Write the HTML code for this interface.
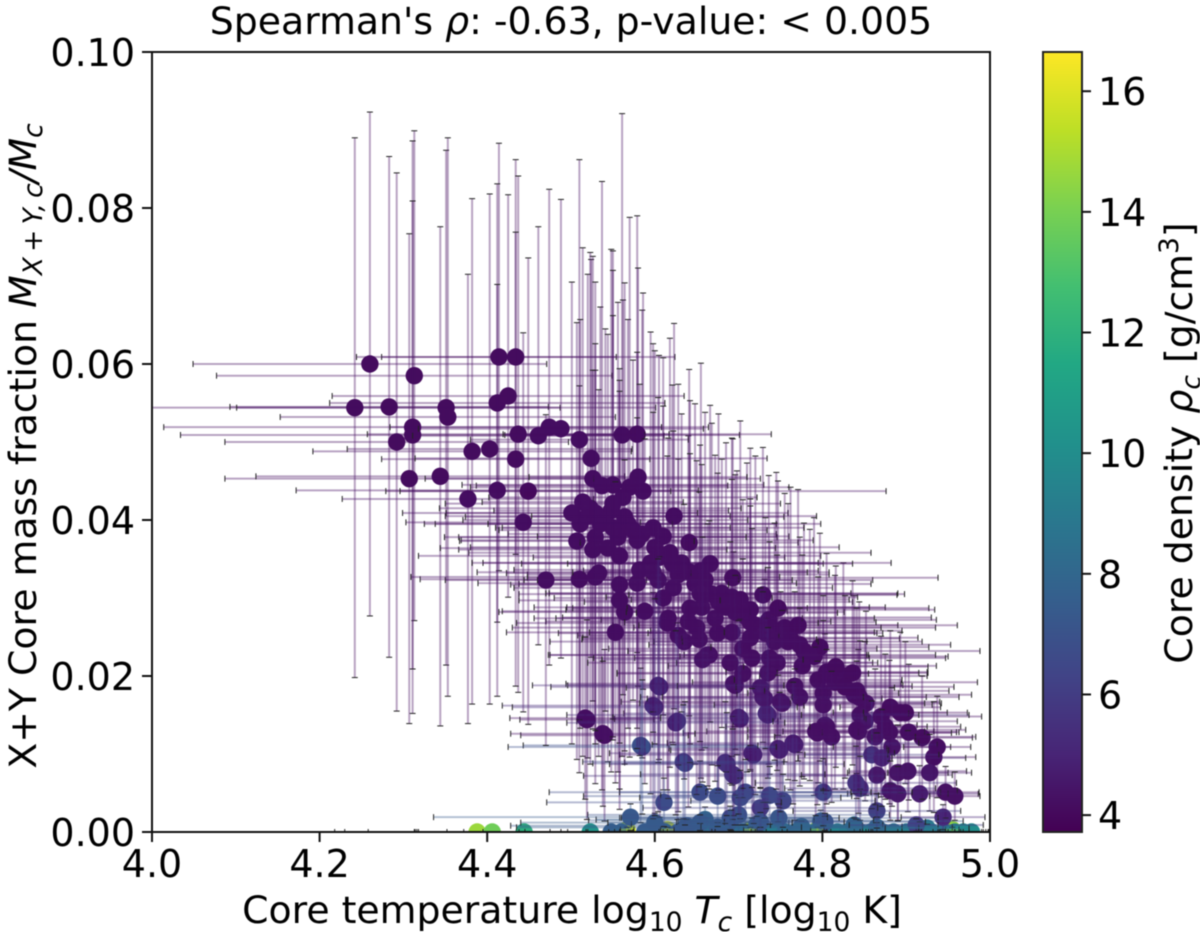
<!DOCTYPE html>
<html lang="en">
<head>
<meta charset="utf-8">
<title>Core mass fraction vs core temperature</title>
<style>
html,body{margin:0;padding:0;background:#fff;width:1200px;height:932px;overflow:hidden}
svg{display:block;filter:blur(0.4px)}
text{font-family:"DejaVu Sans",sans-serif;fill:#000}
</style>
</head>
<body>
<svg id="chart" xmlns="http://www.w3.org/2000/svg" width="1200" height="932" viewBox="0 0 1200 932">
  <defs>
    <clipPath id="plot-clip"><rect x="152" y="52" width="838" height="780"/></clipPath>
    <linearGradient id="viridis-gradient" x1="0" y1="1" x2="0" y2="0">
      <stop offset="0" stop-color="#440154"/><stop offset="0.1" stop-color="#482576"/>
      <stop offset="0.2" stop-color="#414487"/><stop offset="0.3" stop-color="#355f8d"/>
      <stop offset="0.4" stop-color="#2a788e"/><stop offset="0.5" stop-color="#21918c"/>
      <stop offset="0.6" stop-color="#22a884"/><stop offset="0.7" stop-color="#43bf71"/>
      <stop offset="0.8" stop-color="#7ad151"/><stop offset="0.9" stop-color="#bddf26"/>
      <stop offset="1" stop-color="#fde725"/>
    </linearGradient>
  </defs>
  <text x="571" y="34" text-anchor="middle" font-size="37.8">Spearman's <tspan font-style="italic">ρ</tspan>: -0.63, p-value: &lt; 0.005</text>
  <g id="marks" clip-path="url(#plot-clip)"></g>
  <rect x="152" y="52" width="838" height="780" fill="none" stroke="#111" stroke-width="2"/>
  <g id="x-axis"></g>
  <g id="y-axis"></g>
  <text x="572" y="923" text-anchor="middle" font-size="37.8">Core temperature log<tspan font-size="26.5" dy="8">10</tspan><tspan dy="-8" font-style="italic"> T</tspan><tspan font-size="26.5" dy="8" font-style="italic">c</tspan><tspan dy="-8"> [log</tspan><tspan font-size="26.5" dy="8">10</tspan><tspan dy="-8">  K]</tspan></text>
  <text transform="translate(36 446) rotate(-90)" text-anchor="middle" font-size="37.8">X+Y Core mass fraction <tspan font-style="italic">M</tspan><tspan font-size="26.5" dy="6" font-style="italic">X&#8201;+&#8201;Y,&#8201;c</tspan><tspan dy="-6" font-style="italic">/M</tspan><tspan font-size="26.5" dy="6" font-style="italic">c</tspan></text>
  <rect x="1043" y="52" width="39" height="780" fill="url(#viridis-gradient)" stroke="#222" stroke-width="2"/>
  <g id="colorbar-axis"></g>
  <text transform="translate(1192 443) rotate(-90)" text-anchor="middle" font-size="37.8">Core density <tspan font-style="italic">ρ</tspan><tspan font-size="26.5" dy="8" font-style="italic">c</tspan><tspan dy="-8"> [g/cm</tspan><tspan font-size="26.5" dy="-14">3</tspan><tspan dy="14">]</tspan></text>
</svg>
<script>
// Main series
const temps = [
4.242,4.260,4.313,4.283,4.351,4.353,4.311,4.311,4.292,4.307,
4.344,4.377,4.382,4.403,4.414,4.434,4.412,4.425,4.437,4.434,
4.412,4.449,4.443,4.461,4.474,4.488,4.510,4.470,4.510,4.529,
4.533,4.524,4.561,4.579,4.526,4.537,4.550,4.580,4.570,4.586,
4.562,4.550,4.514,4.501,4.523,4.511,4.529,4.541,4.550,4.564,
4.574,4.579,4.598,4.610,4.600,4.623,4.641,4.507,4.529,4.526,
4.544,4.558,4.558,4.579,4.582,4.598,4.621,4.632,4.642,4.666,
4.660,4.693,4.604,4.622,4.610,4.654,4.680,4.692,4.558,4.564,
4.588,4.642,4.656,4.616,4.672,4.696,4.729,4.747,4.714,4.698,
4.714,4.771,4.692,4.732,4.714,4.743,4.759,4.773,4.797,4.785,
4.665,4.690,4.716,4.737,4.746,4.776,4.816,4.836,4.705,4.735,
4.696,4.767,4.795,4.827,4.841,4.844,4.726,4.729,4.773,4.801,
4.801,4.752,4.881,4.893,4.899,4.735,4.700,4.845,4.851,4.875,
4.841,4.805,4.794,4.811,4.919,4.863,4.883,4.937,4.933,4.716,
4.749,4.765,4.859,4.871,4.686,4.693,4.865,4.890,4.902,4.928,
4.840,4.845,4.801,4.881,4.890,4.916,4.947,4.958,4.675,4.737,
4.753,4.708,4.702,4.654,4.865,4.944,4.726,4.691,4.912,4.803,
4.726,4.553,4.615,4.635,4.653,4.663,4.657,4.604,4.600,4.517,
4.625,4.538,4.585,4.634,4.611,4.571,4.654,4.690
];
const fractions = [
.0544,.0600,.0585,.0545,.0544,.0532,.0519,.0509,.0500,.0453,
.0456,.0427,.0488,.0491,.0609,.0609,.0550,.0559,.0510,.0478,
.0438,.0437,.0397,.0508,.0519,.0517,.0503,.0323,.0324,.0327,
.0332,.0479,.0509,.0510,.0453,.0444,.0445,.0455,.0442,.0437,
.0429,.0421,.0423,.0409,.0415,.0395,.0409,.0400,.0390,.0404,
.0387,.0374,.0390,.0379,.0365,.0405,.0371,.0373,.0378,.0362,
.0364,.0354,.0317,.0319,.0336,.0333,.0344,.0345,.0333,.0344,
.0323,.0326,.0323,.0313,.0300,.0306,.0306,.0301,.0297,.0282,
.0283,.0287,.0288,.0274,.0274,.0282,.0304,.0287,.0285,.0281,
.0269,.0265,.0256,.0255,.0249,.0244,.0244,.0240,.0237,.0227,
.0227,.0217,.0223,.0223,.0217,.0213,.0212,.0204,.0203,.0204,
.0188,.0187,.0195,.0186,.0181,.0173,.0185,.0173,.0173,.0178,
.0163,.0165,.0160,.0153,.0153,.0150,.0147,.0150,.0142,.0135,
.0131,.0135,.0127,.0122,.0121,.0122,.0109,.0109,.0096,.0101,
.0105,.0114,.0099,.0095,.0087,.0074,.0073,.0076,.0078,.0076,
.0063,.0056,.0051,.0053,.0049,.0049,.0051,.0046,.0046,.0047,
.0040,.0051,.0044,.0051,.0027,.0019,.0031,.0015,.0009,.0013,
.0013,.0256,.0268,.0244,.0247,.0227,.0221,.0188,.0160,.0146,
.0140,.0126,.0109,.0090,.0038,.0019,.0012,.0018
];
const densities = [
4.1,4.1,4.1,4.1,4.1,4.1,4.1,4.1,4.1,4.1,
4.1,4.2,4.1,4.1,4.1,4.1,4.1,4.1,4.1,4.1,
4.2,4.0,4.2,4.2,4.2,4.2,4.2,4.2,4.1,4.2,
4.2,4.2,4.2,4.1,4.2,4.2,4.2,4.2,4.2,4.2,
4.2,4.2,4.2,4.2,4.2,4.2,4.2,4.2,4.2,4.2,
4.2,4.2,4.2,4.2,4.2,4.2,4.1,4.2,4.2,4.2,
4.2,4.2,4.2,4.3,4.3,4.3,4.2,4.2,4.2,4.2,
4.2,4.1,4.4,4.3,4.2,4.3,4.2,4.2,4.2,4.2,
4.2,4.2,4.3,4.2,4.3,4.2,4.2,4.1,4.2,4.2,
4.2,4.1,4.3,4.3,4.2,4.3,4.2,4.2,4.1,4.2,
4.2,4.3,4.2,4.2,4.3,4.2,4.1,4.1,4.3,4.3,
4.4,4.3,4.2,4.1,4.1,4.1,4.7,4.7,4.4,4.3,
4.3,4.4,4.1,4.1,4.1,5.2,5.2,4.3,4.5,4.2,
4.3,4.3,4.3,4.3,4.1,4.4,4.4,4.2,4.2,4.9,
5.0,5.0,5.8,5.0,5.5,5.5,4.6,4.4,4.4,4.5,
5.6,5.6,6.3,4.4,4.5,4.7,4.3,4.3,6.9,6.5,
6.3,6.5,6.6,6.7,6.1,5.0,6.0,7.2,6.0,7.0,
7.0,4.2,4.2,4.4,4.3,4.4,4.6,5.3,5.4,4.2,
5.4,4.3,6.9,6.5,6.7,7.3,7.3,7.0
];
const tempErrors = [
.245,.211,.236,.190,.250,.200,.297,.277,.205,.220,
.220,.150,.190,.170,.140,.190,.200,.210,.180,.160,
.240,.170,.140,.150,.190,.170,.130,.120,.190,.220,
.110,.210,.140,.160,.200,.150,.180,.130,.190,.290,
.160,.200,.120,.150,.180,.110,.230,.170,.140,.190,
.160,.210,.180,.150,.220,.170,.130,.140,.180,.160,
.200,.240,.130,.190,.150,.210,.180,.250,.140,.170,
.200,.245,.160,.190,.130,.180,.210,.150,.120,.150,
.170,.140,.200,.160,.190,.130,.160,.180,.220,.120,
.150,.190,.170,.140,.200,.110,.160,.180,.130,.150,
.190,.170,.140,.210,.120,.160,.110,.090,.150,.180,
.200,.140,.100,.130,.110,.080,.160,.120,.190,.090,
.130,.170,.060,.080,.050,.240,.150,.070,.110,.090,
.130,.120,.160,.100,.060,.120,.070,.040,.050,.170,
.130,.150,.080,.100,.140,.110,.090,.060,.070,.050,
.120,.090,.140,.080,.060,.070,.040,.030,.160,.130,
.110,.150,.120,.180,.100,.050,.140,.170,.080,.120,
.100,.130,.180,.160,.140,.190,.120,.150,.170,.090,
.130,.110,.160,.120,.140,.235,.110,.130
];
const fractionErrors = [
.0346,.0323,.0314,.0321,.0330,.0358,.0367,.0300,.0345,.0314,
.0320,.0288,.0324,.0327,.0274,.0253,.0281,.0258,.0331,.0291,
.0264,.0299,.0243,.0268,.0305,.0294,.0359,.0212,.0248,.0265,
.0235,.0255,.0412,.0280,.0285,.0390,.0300,.0268,.0346,.0254,
.0253,.0299,.0326,.0296,.0328,.0262,.0296,.0245,.0272,.0300,
.0218,.0241,.0236,.0229,.0252,.0247,.0222,.0280,.0248,.0230,
.0274,.0240,.0262,.0212,.0238,.0205,.0229,.0191,.0220,.0203,
.0215,.0178,.0234,.0201,.0246,.0190,.0172,.0204,.0268,.0195,
.0221,.0198,.0183,.0231,.0209,.0176,.0189,.0163,.0207,.0182,
.0158,.0174,.0196,.0148,.0169,.0152,.0177,.0138,.0146,.0161,
.0172,.0155,.0166,.0149,.0138,.0142,.0129,.0118,.0147,.0135,
.0141,.0121,.0132,.0117,.0106,.0122,.0128,.0135,.0114,.0125,
.0108,.0119,.0098,.0103,.0091,.0112,.0124,.0095,.0102,.0093,
.0088,.0099,.0092,.0084,.0079,.0087,.0076,.0065,.0071,.0083,
.0074,.0078,.0069,.0062,.0066,.0058,.0054,.0061,.0052,.0049,
.0047,.0041,.0043,.0038,.0035,.0036,.0033,.0031,.0039,.0037,
.0034,.0042,.0035,.0040,.0022,.0016,.0025,.0013,.0008,.0011,
.0012,.0193,.0214,.0176,.0189,.0168,.0157,.0162,.0139,.0104,
.0118,.0093,.0086,.0073,.0031,.0017,.0010,.0015
];
// Objects hidden inside the dense ridge, estimated from the bars and caps that show around it
const ridgeTemps = [
4.520,4.535,4.548,4.556,4.568,4.585,4.595,4.605,4.618,4.628,
4.648,4.655,4.668,4.676,4.685,4.702,4.710,4.720,4.736,4.745,
4.755,4.762,4.778,4.790,4.805,4.815,4.825,4.838,4.852,4.870,
4.880,4.903,4.640,4.650,4.628,4.675,4.705,4.606,4.598,4.627,
4.694,4.702,4.733,4.731,4.750,4.718,4.747,4.767,4.684,4.695,
4.636,4.583,4.519,4.540,4.792,4.843,4.803
];
const ridgeFractions = [
.0405,.0395,.0412,.0378,.0395,.0382,.0345,.0352,.0358,.0330,
.0318,.0335,.0305,.0295,.0288,.0298,.0275,.0265,.0272,.0258,
.0262,.0248,.0232,.0225,.0205,.0192,.0200,.0176,.0165,.0148,
.0128,.0128,.0270,.0262,.0252,.0255,.0235,.0186,.0162,.0142,
.0190,.0145,.0152,.0171,.0167,.0099,.0107,.0112,.0089,.0072,
.0088,.0111,.0144,.0124,.0129,.0129,.0137
];
const ridgeDensities = [
4.2,4.2,4.2,4.2,4.2,4.2,4.2,4.2,4.2,4.2,
4.2,4.2,4.2,4.2,4.2,4.2,4.2,4.2,4.2,4.2,
4.2,4.2,4.2,4.2,4.2,4.2,4.2,4.2,4.2,4.2,
4.2,4.2,4.2,4.2,4.2,4.2,4.2,5.3,5.4,5.4,
4.4,5.2,5.2,4.7,4.4,4.9,5.0,5.0,5.5,5.5,
6.5,6.9,4.2,4.3,4.3,4.3,4.3
];
const ridgeTempErrors = [
.17,.21,.14,.19,.23,.16,.20,.15,.24,.18,
.21,.14,.23,.16,.19,.13,.22,.17,.20,.15,
.18,.13,.21,.16,.12,.17,.10,.14,.09,.12,
.08,.06,.17,.22,.12,.19,.16,.13,.18,.12,
.20,.15,.17,.14,.19,.16,.13,.17,.12,.18,
.11,.14,.08,.10,.13,.09,.11
];
const ridgeFractionErrors = [
.0310,.0278,.0335,.0301,.0262,.0287,.0296,.0259,.0275,.0244,
.0231,.0266,.0219,.0241,.0211,.0229,.0198,.0217,.0185,.0203,
.0172,.0194,.0164,.0178,.0152,.0137,.0145,.0127,.0118,.0103,
.0092,.0087,.0238,.0214,.0226,.0205,.0191,.0167,.0145,.0126,
.0169,.0128,.0122,.0153,.0141,.0088,.0094,.0097,.0078,.0063,
.0079,.0099,.0128,.0110,.0108,.0105,.0117
];
// Objects sitting on or just above the y = 0 line
const floorTemps = [
4.567,4.615,4.714,4.794,4.955,4.388,4.406,4.444,4.523,4.548,
4.560,4.588,4.612,4.628,4.645,4.655,4.668,4.682,4.695,4.705,
4.718,4.730,4.742,4.755,4.768,4.780,4.792,4.805,4.818,4.830,
4.845,4.858,4.872,4.885,4.900,4.915,4.930,4.945,4.958,4.968,4.978,
4.600,4.638,4.660,4.675,4.700,4.722,4.748,4.775,4.798,4.838,4.865,4.925
];
const floorDensities = [
15.6,15.9,15.2,15.0,14.6,14.7,13.8,11.9,10.4,7.6,
7.8,7.5,7.9,7.3,9.1,7.7,8.0,8.6,7.4,8.2,
7.8,8.6,9.0,8.4,7.9,9.2,8.7,8.1,9.4,8.9,
8.4,9.6,9.0,8.8,9.2,8.7,9.5,8.6,9.8,10.1,10.0,
7.4,7.2,7.8,7.3,7.0,7.5,7.2,8.0,7.4,8.2,8.0,9.0
];
const floorTempErrors = [
.008,.008,.008,.008,.008,.170,.090,.130,.210,.290,
.330,.270,.240,.310,.200,.260,.180,.330,.220,.160,
.280,.210,.190,.140,.250,.170,.120,.200,.150,.110,
.130,.100,.120,.080,.090,.060,.070,.050,.040,.030,.020,
.160,.210,.130,.240,.180,.150,.190,.120,.170,.100,.090,.050
];
const floorFractions = [
.0003,.0003,.0003,.0003,.0003,0,0,0,0,0,
0,0,0,0,0,0,0,0,0,0,
0,0,0,0,0,0,0,0,0,0,
0,0,0,0,0,0,0,0,0,0,0,
.0012,.0008,.0016,.0006,.0022,.0010,.0018,.0007,.0014,.0009,.0006,.0005
];
const xTicks = [4.0,4.2,4.4,4.6,4.8,5.0];
const xTickLabels = ["4.0","4.2","4.4","4.6","4.8","5.0"];
const yTicks = [0,0.02,0.04,0.06,0.08,0.10];
const yTickLabels = ["0.00","0.02","0.04","0.06","0.08","0.10"];
const cbarTicks = [4,6,8,10,12,14,16];
const cbarTickLabels = ["4","6","8","10","12","14","16"];

const NS = "http://www.w3.org/2000/svg";
const PLOT = {left:152,right:990,top:52,bottom:832};
const xDomain = [4,5], yDomain = [0,0.1], cDomain = [3.72,16.65];
const sx = v => PLOT.left + (v-xDomain[0])/(xDomain[1]-xDomain[0])*(PLOT.right-PLOT.left);
const sy = v => PLOT.bottom - (v-yDomain[0])/(yDomain[1]-yDomain[0])*(PLOT.bottom-PLOT.top);
const sc = v => PLOT.bottom - (v-cDomain[0])/(cDomain[1]-cDomain[0])*(PLOT.bottom-PLOT.top);
const VIRIDIS = [[68,1,84],[72,37,118],[65,68,135],[53,95,141],[42,120,142],[33,145,140],[34,168,132],[67,191,113],[122,209,81],[189,223,38],[253,231,37]];
function colorOf(v){
  const t = Math.max(0,Math.min(1,(v-cDomain[0])/(cDomain[1]-cDomain[0])))*10;
  const i = Math.min(9,Math.floor(t)), f = t-i;
  const c = VIRIDIS[i].map((a,k)=>Math.round(a+(VIRIDIS[i+1][k]-a)*f));
  return "rgb("+c.join(",")+")";
}
function mk(tag,attrs,parent){
  const el = document.createElementNS(NS,tag);
  for(const k in attrs) el.setAttribute(k,attrs[k]);
  parent.appendChild(el);
  return el;
}
const marks = document.getElementById("marks");
const allX = floorTemps.concat(ridgeTemps,temps);
const allY = floorFractions.concat(ridgeFractions,fractions);
const allC = floorDensities.concat(ridgeDensities,densities);
const allXe = floorTempErrors.concat(ridgeTempErrors,tempErrors);
const allYe = floorFractions.concat(ridgeFractionErrors,fractionErrors);

const dotLayer = mk("g",{},marks);


const errLayer = mk("g",{},marks);



allX.forEach((xv,i)=>{
  const cx = sx(xv), cy = sy(allY[i]), col = colorOf(allC[i]);
  const dot = mk("circle",{cx:cx,cy:cy,r:8.7,fill:col},dotLayer);
  
  
  const x0 = sx(xv-allXe[i]), x1 = sx(xv+allXe[i]);
  const y0 = sy(allY[i]-allYe[i]), y1 = sy(allY[i]+allYe[i]);
  const hl = mk("line",{x1:x0,y1:cy,x2:x1,y2:cy,stroke:col,"stroke-opacity":0.38,"stroke-width":2},errLayer);
  
  
  const vl = mk("line",{x1:cx,y1:y0,x2:cx,y2:y1,stroke:col,"stroke-opacity":0.38,"stroke-width":2},errLayer);
  
  
  [x0,x1].forEach(px=>{
    const cap = mk("line",{x1:px,y1:cy-3,x2:px,y2:cy+3,stroke:"#222","stroke-width":1},errLayer);
    
    
  });
  [y0,y1].forEach(py=>{
    const cap = mk("line",{x1:cx-3,y1:py,x2:cx+3,y2:py,stroke:"#222","stroke-width":1},errLayer);
    
    
  });
});

const xAxis = document.getElementById("x-axis");
xTicks.forEach((v,i)=>{
  const t = mk("line",{x1:sx(v),x2:sx(v),y1:832,y2:842,stroke:"#111","stroke-width":2},xAxis);
  
  
  const l = mk("text",{x:sx(v),y:877,"text-anchor":"middle","font-size":38},xAxis);
  l.textContent = xTickLabels[i];
  
  
});
const yAxis = document.getElementById("y-axis");
yTicks.forEach((v,i)=>{
  const t = mk("line",{x1:142,x2:152,y1:sy(v),y2:sy(v),stroke:"#111","stroke-width":2},yAxis);
  
  
  const l = mk("text",{x:135,y:sy(v)+14,"text-anchor":"end","font-size":38},yAxis);
  l.textContent = yTickLabels[i];
  
  
});
const cAxis = document.getElementById("colorbar-axis");
cbarTicks.forEach((v,i)=>{
  const t = mk("line",{x1:1082,x2:1091,y1:sc(v),y2:sc(v),stroke:"#111","stroke-width":2},cAxis);
  
  
  const l = mk("text",{x:1098,y:sc(v)+14,"font-size":38},cAxis);
  l.textContent = cbarTickLabels[i];
  
  
});
</script>
</body>
</html>
